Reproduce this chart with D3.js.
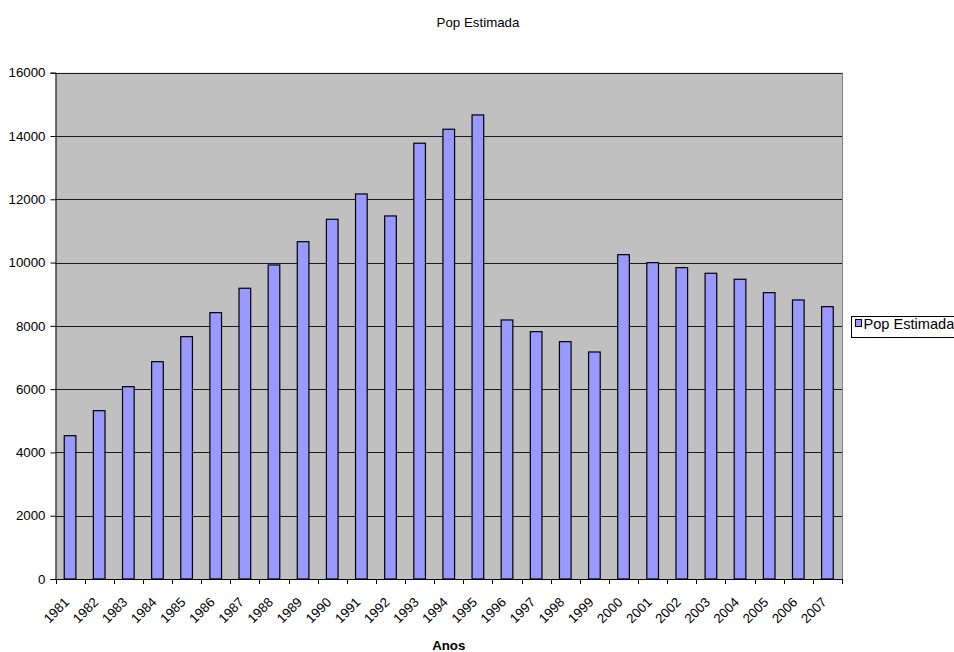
<!DOCTYPE html>
<html>
<head>
<meta charset="utf-8">
<script src="https://cdn.jsdelivr.net/npm/d3@7"></script>
<style>
  html, body { margin: 0; padding: 0; background: #fff; }
  svg { display: block; font-family: "Liberation Sans", Arial, sans-serif; }
</style>
</head>
<body>
<svg id="chart" width="954" height="652"></svg>
<script>
const years = ["1981","1982","1983","1984","1985","1986","1987","1988","1989","1990","1991","1992","1993","1994","1995","1996","1997","1998","1999","2000","2001","2002","2003","2004","2005","2006","2007"];
const popEstimada = [4529,5320,6078,6868,7658,8417,9188,9924,10660,11368,12168,11473,13771,14213,14665,8186,7817,7500,7174,10250,9997,9839,9661,9472,9049,8818,8606];
const yTicks = [0,2000,4000,6000,8000,10000,12000,14000,16000];
const seriesName = "Pop Estimada";
const chartTitle = "Pop Estimada";
const xTitle = "Anos";

(function () {
const FS = 13.3;
const svg = d3.select("#chart");
const pLeft = 55.5, pRight = 842, pTop = 72.7, pBottom = 579;

const x = d3.scaleBand().domain(years).range([pLeft, pRight]).paddingInner(0).paddingOuter(0);
const y = d3.scaleLinear().domain([0, 16000]).range([pBottom, pTop]);

// plot background
svg.append("rect")
  .attr("x", pLeft).attr("y", pTop)
  .attr("width", pRight - pLeft).attr("height", pBottom - pTop)
  .attr("fill", "#C0C0C0");

// gridlines
svg.append("g").selectAll("line")
  .data(yTicks.filter(d => d > 0))
  .join("line")
  .attr("x1", pLeft).attr("x2", pRight)
  .attr("y1", d => Math.round(y(d)) + 0.5).attr("y2", d => Math.round(y(d)) + 0.5)
  .attr("stroke", "#1a1a1a").attr("stroke-width", 1);

// right border
svg.append("line")
  .attr("x1", Math.round(pRight) + 0.5).attr("x2", Math.round(pRight) + 0.5)
  .attr("y1", pTop).attr("y2", pBottom)
  .attr("stroke", "#808080");

// bars
const bw = x.bandwidth() / 2.5;
svg.append("g").selectAll("rect")
  .data(years.map((yr, i) => ({yr, v: popEstimada[i]})))
  .join("rect")
  .attr("x", d => x(d.yr) + (x.bandwidth() - bw) / 2)
  .attr("y", d => y(d.v))
  .attr("width", bw)
  .attr("height", d => pBottom - y(d.v))
  .attr("fill", "#9999FF")
  .attr("stroke", "#000")
  .attr("stroke-width", 1.2);

// y axis
const yAxis = d3.axisLeft(y).tickValues(yTicks).tickSize(5).tickPadding(5).tickFormat(d3.format("d"));
const gy = svg.append("g").attr("transform", `translate(${pLeft},0)`).call(yAxis);
gy.select(".domain").attr("stroke", "#000");
gy.selectAll(".tick line").attr("stroke", "#000");
gy.selectAll("text").attr("font-size", FS).attr("fill", "#000").attr("font-family", "Liberation Sans, Arial, sans-serif");

// x axis: ticks at band boundaries
const gx = svg.append("g");
gx.append("line")
  .attr("x1", pLeft).attr("x2", pRight)
  .attr("y1", pBottom + 0.5).attr("y2", pBottom + 0.5)
  .attr("stroke", "#000");
const boundaries = years.map(yr => x(yr)).concat([pRight]);
gx.selectAll("line.tk").data(boundaries).join("line")
  .attr("class", "tk")
  .attr("x1", d => Math.round(d) + 0.5).attr("x2", d => Math.round(d) + 0.5)
  .attr("y1", pBottom).attr("y2", pBottom + 5)
  .attr("stroke", "#000");
gx.selectAll("text").data(years).join("text")
  .attr("transform", d => `translate(${x(d) + x.bandwidth() / 2},${pBottom + 24}) rotate(-45)`)
  .attr("text-anchor", "end")
  .attr("font-size", FS)
  .attr("fill", "#000")
  .text(d => d);

// titles
svg.append("text")
  .attr("x", 478).attr("y", 26.5)
  .attr("text-anchor", "middle")
  .attr("font-size", FS)
  .text(chartTitle);
svg.append("text")
  .attr("x", (pLeft + pRight) / 2).attr("y", 650)
  .attr("text-anchor", "middle")
  .attr("font-size", FS)
  .attr("font-weight", "bold")
  .text(xTitle);

// legend
const lg = svg.append("g");
lg.append("rect")
  .attr("x", 851.5).attr("y", 316.5).attr("width", 110).attr("height", 21)
  .attr("fill", "#fff").attr("stroke", "#000");
lg.append("rect")
  .attr("x", 855.5).attr("y", 319.5).attr("width", 6).attr("height", 7)
  .attr("fill", "#9999FF").attr("stroke", "#000");
lg.append("text")
  .attr("x", 863.5).attr("y", 329)
  .attr("font-size", 14.6)
  .text(seriesName);
})();
</script>
</body>
</html>
